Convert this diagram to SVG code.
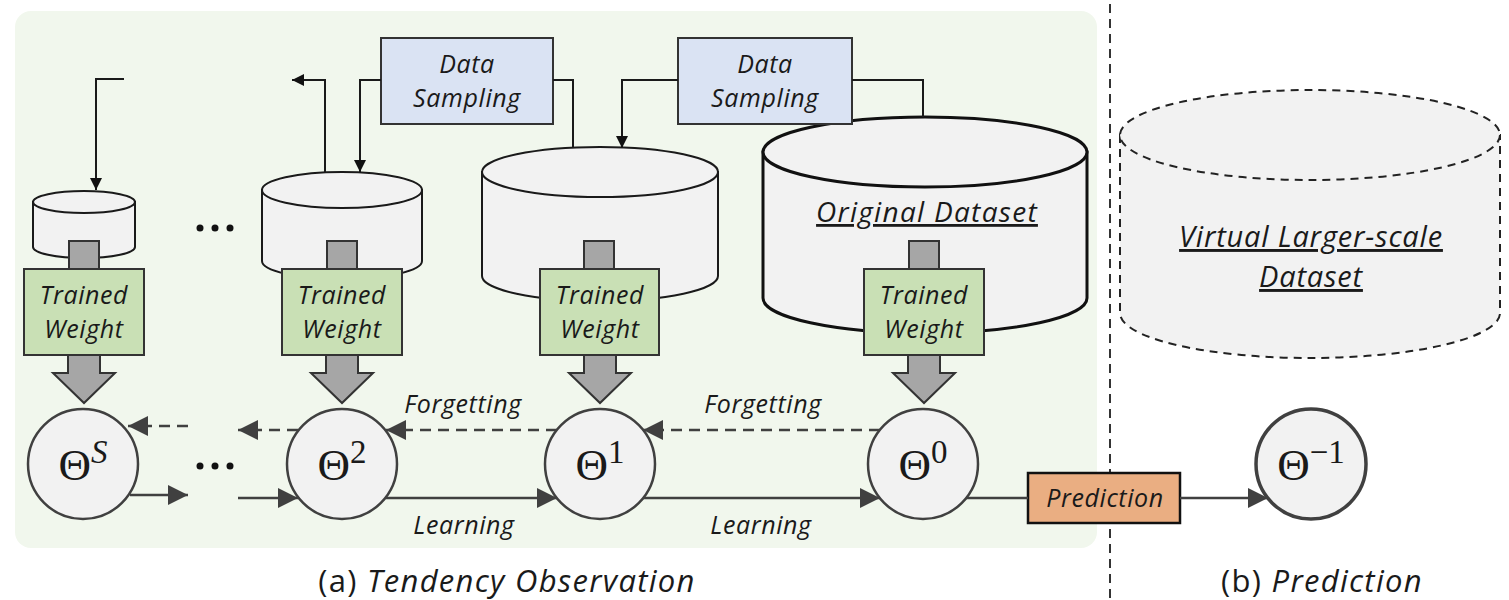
<svg xmlns="http://www.w3.org/2000/svg" width="1509" height="600" viewBox="0 0 1509 600">
<defs>
<style>
.t{font-family:"Open Sans","Liberation Sans",sans-serif;font-style:italic;font-size:25px;letter-spacing:0.6px;fill:#1a1a1a;text-anchor:middle}
.big{font-size:28px;letter-spacing:1.3px}
.vir{font-size:29px;letter-spacing:0.8px}
.cap{font-family:"Open Sans","Liberation Sans",sans-serif;font-size:31px;letter-spacing:1.3px;fill:#1a1a1a;text-anchor:middle}
.th{font-family:"Liberation Serif","DejaVu Serif",serif;font-size:45px;fill:#1a1a1a;text-anchor:middle}
.sup{font-size:33px}
.cyl{fill:#f2f2f2;stroke:#1a1a1a;stroke-width:2}
.tw{fill:#c9e0b5;stroke:#333;stroke-width:2}
.ds{fill:#dae3f3;stroke:#333;stroke-width:2}
.gr{fill:#a6a6a6;stroke:#333;stroke-width:2}
.cir{fill:#f2f2f2;stroke:#404040;stroke-width:2.5}
.ln{fill:none;stroke:#404040;stroke-width:2.5}
.dl{fill:none;stroke:#404040;stroke-width:2.5;stroke-dasharray:11 7}
.bl{fill:none;stroke:#1a1a1a;stroke-width:2}
</style>
<marker id="ah" markerUnits="userSpaceOnUse" markerWidth="20" markerHeight="20" viewBox="0 0 20 20" refX="20" refY="10" orient="auto"><path d="M0,0 L20,10 L0,20 z" fill="#404040"/></marker>
<marker id="sa" markerUnits="userSpaceOnUse" markerWidth="12" markerHeight="12" viewBox="0 0 12 12" refX="12" refY="6" orient="auto"><path d="M0,0 L12,6 L0,12 z" fill="#111"/></marker>
</defs>
<rect x="15" y="11" width="1082" height="537" rx="16" fill="#f1f7ed"/>
<line x1="1110" y1="4" x2="1110" y2="600" stroke="#333" stroke-width="2" stroke-dasharray="9 6"/>

<g id="virtual-dataset">
<path d="M1120,135 V313 A190,45 0 0 0 1500,313 V135 Z" fill="#f2f2f2" stroke="#222" stroke-width="2" stroke-dasharray="8 6"/>
<ellipse cx="1310" cy="135" rx="190" ry="45" fill="#f2f2f2" stroke="#222" stroke-width="2" stroke-dasharray="8 6"/>
<text class="t vir" x="1311" y="247" text-decoration="underline">Virtual Larger-scale</text>
<text class="t vir" x="1311" y="287" text-decoration="underline">Dataset</text>
</g>

<g id="cyl-S">
<path class="cyl" d="M33,202 V247 A51,11 0 0 0 135,247 V202 Z"/>
<ellipse class="cyl" cx="84" cy="202" rx="51" ry="11"/>
</g>
<g id="cyl-2">
<path class="cyl" d="M262,190 V261 A80,18 0 0 0 422,261 V190 Z"/>
<ellipse class="cyl" cx="342" cy="190" rx="80" ry="18"/>
</g>
<g id="cyl-1">
<path class="cyl" d="M482,172 V276 A118,25 0 0 0 718,276 V172 Z"/>
<ellipse class="cyl" cx="600" cy="172" rx="118" ry="25"/>
</g>
<g id="cyl-0">
<path class="cyl" style="stroke-width:3;stroke:#111" d="M763,152 V298 A162,35 0 0 0 1087,298 V152 Z"/>
<ellipse class="cyl" style="stroke-width:3;stroke:#111" cx="925" cy="152" rx="162" ry="35"/>
<text class="t big" x="927" y="222" text-decoration="underline">Original Dataset</text>
</g>

<g id="data-sampling-1">
<rect class="ds" x="381" y="38" width="172" height="86"/>
<text class="t" x="467" y="73">Data</text>
<text class="t" x="467" y="107">Sampling</text>
</g>
<g id="data-sampling-2">
<rect class="ds" x="678" y="38" width="174" height="86"/>
<text class="t" x="765" y="73">Data</text>
<text class="t" x="765" y="107">Sampling</text>
</g>

<g id="weights">
<g id="tw-S">
<rect class="gr" x="69" y="241" width="30" height="28"/>
<rect class="tw" x="24" y="269" width="120" height="86"/>
<text class="t" x="84" y="304">Trained</text>
<text class="t" x="84" y="338">Weight</text>
<path class="gr" d="M68,355 H100 V373 H115 L84,403 L53,373 H68 Z"/>
</g>
<g id="tw-2">
<rect class="gr" x="327" y="241" width="30" height="28"/>
<rect class="tw" x="282" y="269" width="120" height="86"/>
<text class="t" x="342" y="304">Trained</text>
<text class="t" x="342" y="338">Weight</text>
<path class="gr" d="M326,355 H358 V373 H373 L342,403 L311,373 H326 Z"/>
</g>
<g id="tw-1">
<rect class="gr" x="584" y="241" width="30" height="28"/>
<rect class="tw" x="540" y="269" width="119" height="86"/>
<text class="t" x="600" y="304">Trained</text>
<text class="t" x="600" y="338">Weight</text>
<path class="gr" d="M584,355 H616 V373 H631 L600,403 L569,373 H584 Z"/>
</g>
<g id="tw-0">
<rect class="gr" x="909" y="241" width="30" height="28"/>
<rect class="tw" x="864" y="269" width="120" height="86"/>
<text class="t" x="924" y="304">Trained</text>
<text class="t" x="924" y="338">Weight</text>
<path class="gr" d="M908,355 H940 V373 H955 L924,403 L893,373 H908 Z"/>
</g>
</g>

<g id="theta-S"><circle class="cir" cx="83" cy="464" r="55"/><text class="th" x="83" y="480">Θ<tspan class="sup" dy="-17" font-style="italic">S</tspan></text></g>
<g id="theta-2"><circle class="cir" cx="342" cy="464" r="55"/><text class="th" x="342" y="480">Θ<tspan class="sup" dy="-17">2</tspan></text></g>
<g id="theta-1"><circle class="cir" cx="600" cy="464" r="55"/><text class="th" x="600" y="480">Θ<tspan class="sup" dy="-17">1</tspan></text></g>
<g id="theta-0"><circle class="cir" cx="923" cy="464" r="55"/><text class="th" x="923" y="480">Θ<tspan class="sup" dy="-17">0</tspan></text></g>
<g id="theta-m1"><circle class="cir" style="stroke-width:3.5" cx="1311" cy="464" r="55"/><text class="th" x="1311" y="480">Θ<tspan class="sup" dy="-17">−1</tspan></text></g>

<g id="prediction">
<rect x="1028" y="473" width="152" height="50" fill="#eaae82" stroke="#111" stroke-width="2.5"/>
<text class="t" x="1105" y="507">Prediction</text>
</g>

<g id="ellipsis" fill="#111">
<circle cx="200" cy="228" r="3.5"/><circle cx="215" cy="228" r="3.5"/><circle cx="230" cy="228" r="3.5"/>
<circle cx="200" cy="466" r="3.5"/><circle cx="215" cy="466" r="3.5"/><circle cx="230" cy="466" r="3.5"/>
</g>

<g id="connectors">
<path class="bl" d="M124,79 H96 V190" marker-end="url(#sa)"/>
<path class="bl" d="M325,172 V80 H292" marker-end="url(#sa)"/>
<path class="bl" d="M381,80 H360 V172" marker-end="url(#sa)"/>
<path class="bl" d="M553,80 H573 V148"/>
<path class="bl" d="M678,80 H622 V148" marker-end="url(#sa)"/>
<path class="bl" d="M852,80 H923 V117"/>

<path class="ln" d="M130,495 H188" marker-end="url(#ah)"/>
<path class="ln" d="M238,498 H298" marker-end="url(#ah)"/>
<path class="ln" d="M386,498 H557" marker-end="url(#ah)"/>
<path class="ln" d="M643,498 H880" marker-end="url(#ah)"/>
<path class="ln" d="M966,498 H1028"/>
<path class="ln" d="M1180,498 H1268" marker-end="url(#ah)"/>

<path class="dl" d="M880,430 H643" marker-end="url(#ah)"/>
<path class="dl" d="M557,430 H386" marker-end="url(#ah)"/>
<path class="dl" d="M298,430 H238" marker-end="url(#ah)"/>
<path class="dl" d="M188,426 H128" marker-end="url(#ah)"/>
</g>

<g id="labels">
<text class="t" x="463" y="413">Forgetting</text>
<text class="t" x="763" y="413">Forgetting</text>
<text class="t" x="464" y="534">Learning</text>
<text class="t" x="761" y="534">Learning</text>
</g>

<text class="cap" x="507" y="592">(a) <tspan font-style="italic">Tendency Observation</tspan></text>
<text class="cap" x="1322" y="592">(b) <tspan font-style="italic">Prediction</tspan></text>
</svg>
